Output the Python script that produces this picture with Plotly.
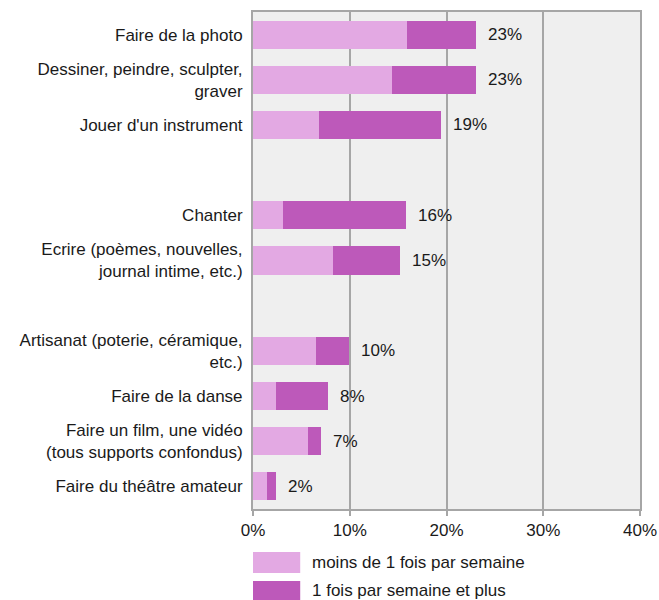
import plotly.graph_objects as go

# Catégories (de haut en bas) ; les chaînes vides servent d'espacement entre groupes
categories = [
    "Faire de la photo",
    "Dessiner, peindre, sculpter,<br>graver",
    "Jouer d'un instrument",
    "Chanter",
    "Ecrire (poèmes, nouvelles,<br>journal intime, etc.)",
    "Artisanat (poterie, céramique,<br>etc.)",
    "Faire de la danse",
    "Faire un film, une vidéo<br>(tous supports confondus)",
    "Faire du théâtre amateur",
]
ordre_axe = categories[:3] + [" "] + categories[3:5] + ["  "] + categories[5:]

moins_1_fois = [15.9, 14.4, 6.8, 3.1, 8.3, 6.5, 2.4, 5.7, 1.4]
une_fois_plus = [7.1, 8.6, 12.6, 12.7, 6.9, 3.4, 5.3, 1.3, 1.0]
etiquettes = ["23%", "23%", "19%", "16%", "15%", "10%", "8%", "7%", "2%"]

x_ticks = [0, 10, 20, 30, 40]
x_ticktext = ["0%", "10%", "20%", "30%", "40%"]

series = ["moins de 1 fois par semaine", "1 fois par semaine et plus"]
couleurs = ["#E3A9E3", "#BD59BA"]

police = "Liberation Sans, Arial, sans-serif"
gris = "#A6A6A6"

fig = go.Figure()
for nom, valeurs, couleur in zip(series, [moins_1_fois, une_fois_plus], couleurs):
    fig.add_trace(go.Bar(
        y=categories,
        x=valeurs,
        orientation="h",
        name=nom,
        marker=dict(color=couleur, line=dict(width=0)),
        width=0.62,
        showlegend=False,
    ))

# Totaux à droite des barres
for cat, a, b, txt in zip(categories, moins_1_fois, une_fois_plus, etiquettes):
    fig.add_annotation(
        x=a + b, y=cat, text=txt, showarrow=False,
        xanchor="left", xshift=10,
        font=dict(family=police, size=17, color="#1a1a1a"),
    )

# Légende dessinée à la main (grands carrés de couleur)
leg_y = [(-0.0865, -0.1288), (-0.1449, -0.19)]
leg_txt_y = [-0.108, -0.163]
for (y0, y1), ty, nom, couleur in zip(leg_y, leg_txt_y, series, couleurs):
    fig.add_shape(type="rect", xref="paper", yref="paper",
                  x0=0.0, x1=0.122, y0=y1, y1=y0,
                  fillcolor=couleur, line=dict(width=0))
    fig.add_annotation(xref="paper", yref="paper", x=0.148, y=ty,
                       text=nom, showarrow=False, xanchor="left", yanchor="middle",
                       font=dict(family=police, size=17, color="#1a1a1a"))

fig.update_layout(
    barmode="stack",
    width=659, height=600,
    margin=dict(l=253, r=19, t=12, b=91),
    plot_bgcolor="#EFEFEF",
    paper_bgcolor="white",
    font=dict(family=police, size=17, color="#1a1a1a"),
    xaxis=dict(
        range=[0, 40], tickvals=x_ticks, ticktext=x_ticktext,
        showgrid=True, gridcolor=gris, gridwidth=2,
        showline=True, linecolor=gris, linewidth=2, mirror=True,
        ticks="outside", ticklen=5, tickcolor=gris, tickwidth=2,
        zeroline=False, fixedrange=True, automargin=False,
    ),
    yaxis=dict(
        categoryorder="array", categoryarray=ordre_axe[::-1],
        showgrid=False, showline=True, linecolor=gris, linewidth=2, mirror=True,
        ticks="", ticklabelstandoff=5, fixedrange=True, automargin=False,
    ),
)

# pas de marge de page, pour que la figure occupe toute la fenêtre
fig.write_html(
    "out.html",
    config={"displayModeBar": False},
    post_script="document.body.style.margin='0';",
)
